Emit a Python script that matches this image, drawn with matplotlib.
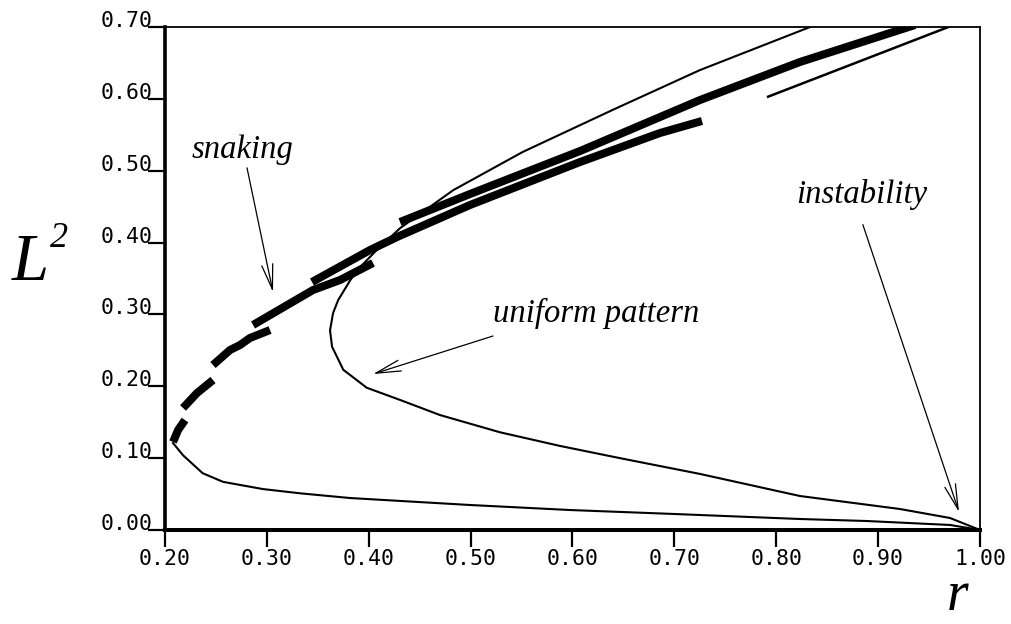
import numpy as np
import matplotlib.pyplot as plt

plt.rcParams['mathtext.fontset'] = 'custom'
plt.rcParams['mathtext.rm'] = 'Liberation Serif'
plt.rcParams['mathtext.it'] = 'Liberation Serif:italic'

# small amplitude branch coming out of the instability at r = 1
low_r = [1.0, 0.9706, 0.889, 0.8233, 0.6996, 0.5975, 0.4994, 0.3816, 0.333,
         0.296, 0.257, 0.237, 0.2177, 0.2079]
low_L2 = [0.0, 0.007, 0.0125, 0.0153, 0.0223, 0.0278, 0.0348, 0.0445, 0.051,
          0.057, 0.067, 0.079, 0.104, 0.121]

# uniform pattern branch
uni_r = [1.0, 0.9706, 0.9215, 0.8233, 0.7252, 0.6466, 0.5877, 0.5288, 0.4699,
         0.4307, 0.398, 0.375, 0.364, 0.362, 0.365, 0.370, 0.382, 0.391,
         0.406, 0.4307, 0.483, 0.551, 0.640, 0.725, 0.835]
uni_L2 = [0.0, 0.0167, 0.0292, 0.0473, 0.078, 0.100, 0.117, 0.136, 0.160,
          0.181, 0.198, 0.223, 0.255, 0.278, 0.302, 0.320, 0.348, 0.365,
          0.387, 0.420, 0.473, 0.526, 0.585, 0.640, 0.701]

# stable pieces of the snaking branch (thick)
snake_r = [
    [0.2079, 0.2128, 0.2196],
    [0.2177, 0.2314, 0.2471],
    [0.2471, 0.2638, 0.2736, 0.2834, 0.3031],
    [0.2864, 0.3453, 0.3718, 0.4042],
    [0.3443, 0.3620, 0.4012, 0.4277, 0.4994, 0.6074, 0.6859, 0.7271],
    [0.4307, 0.4994, 0.6074, 0.7252, 0.8233, 0.9362],
]
snake_L2 = [
    [0.1225, 0.139, 0.153],
    [0.1698, 0.1906, 0.2087],
    [0.2296, 0.2505, 0.2574, 0.2672, 0.2783],
    [0.2853, 0.334, 0.3479, 0.3716],
    [0.3451, 0.3590, 0.3896, 0.4077, 0.4523, 0.5121, 0.5525, 0.5692],
    [0.4286, 0.4676, 0.5274, 0.5984, 0.6513, 0.7028],
]

# short branch at the top right
top_r = [0.792, 0.969]
top_L2 = [0.603, 0.70]

xticks = [0.2, 0.3, 0.4, 0.5, 0.6, 0.7, 0.8, 0.9, 1.0]
yticks = [0.0, 0.1, 0.2, 0.3, 0.4, 0.5, 0.6, 0.7]

fig = plt.figure(figsize=(10.12, 6.24), dpi=100)
ax = fig.add_axes([165 / 1012, 94 / 624, 815 / 1012, 503 / 624])

ax.plot(low_r, low_L2, color='black', lw=1.5)
ax.plot(uni_r, uni_L2, color='black', lw=1.5)
ax.plot(top_r, top_L2, color='black', lw=1.8)
for r, l2 in zip(snake_r, snake_L2):
    ax.plot(r, l2, color='black', lw=5.8, solid_capstyle='butt')

ax.set_xlim(0.2, 1.0)
ax.set_ylim(0.0, 0.7)
ax.set_xticks(xticks)
ax.set_yticks(yticks)
ax.set_xticklabels(['%.2f' % v for v in xticks])
ax.set_yticklabels(['%.2f' % v for v in yticks])
ax.tick_params(axis='both', direction='out', length=12, width=1.6,
               labelsize=15.5, colors='black')
ax.tick_params(axis='x', pad=2)
ax.tick_params(axis='y', pad=-3)
for lab in ax.get_xticklabels() + ax.get_yticklabels():
    lab.set_fontfamily('DejaVu Sans Mono')
for lab in ax.get_yticklabels():
    lab.set_va('baseline')

ax.spines['left'].set_linewidth(2.6)
ax.spines['bottom'].set_linewidth(2.9)
ax.spines['top'].set_linewidth(1.3)
ax.spines['right'].set_linewidth(1.3)

txt = dict(fontfamily='Liberation Serif', fontstyle='italic', fontsize=23.5)
arrow = dict(arrowstyle='->, head_length=0.9, head_width=0.2', lw=0.9,
             color='black', shrinkA=0, shrinkB=0, mutation_scale=20)

ax.text(0.2265, 0.518, 'snaking', **txt)
ax.annotate('', xy=(0.306, 0.331), xytext=(0.2805, 0.504),
            arrowprops=arrow)

ax.text(0.522, 0.289, 'uniform pattern', **txt)
ax.annotate('', xy=(0.4042, 0.217), xytext=(0.522, 0.270),
            arrowprops=arrow)

ax.text(0.820, 0.455, 'instability', **txt)
ax.annotate('', xy=(0.9794, 0.025), xytext=(0.885, 0.425),
            arrowprops=arrow)

lab = dict(fontfamily='Liberation Serif', fontstyle='italic')
fig.text(12 / 1012, 344 / 624, 'L', fontsize=48, **lab)
fig.text(50 / 1012, 377 / 624, '2', fontsize=26, **lab)
fig.text(946 / 1012, 2 / 624, '$r$', fontsize=40, va='bottom')

fig.savefig('out.png', dpi=100)
